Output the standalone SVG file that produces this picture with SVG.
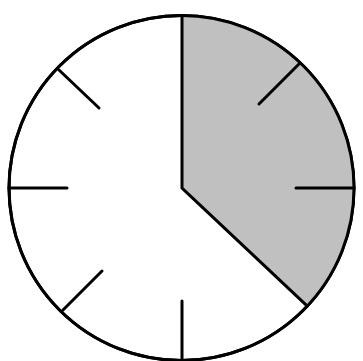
<svg xmlns="http://www.w3.org/2000/svg" width="363" height="361" viewBox="0 0 363 361">
  <style>
    .ln { stroke: #000; stroke-width: 3; fill: none; stroke-linecap: round; }
    .face { fill: #fff; stroke: #000; stroke-width: 3; }
    .sector { fill: #c0c0c0; stroke: none; }
  </style>
  <g id="dial">
    <circle class="face" cx="181.5" cy="188" r="172.5"/>
    <path class="sector" d="M182,188 L182,15.5 A172.5,172.5 0 0 1 307.3,306.2 Z"/>
    <circle cx="181.5" cy="188" r="172.5" fill="none" stroke="#000" stroke-width="3"/>
  </g>
  <g id="ticks">
    <line class="ln" x1="59" y1="70" x2="99" y2="108"/>
    <line class="ln" x1="299" y1="64" x2="259" y2="104"/>
    <line class="ln" x1="63" y1="310" x2="102" y2="271"/>
    <line class="ln" x1="296" y1="188" x2="354" y2="188"/>
    <line class="ln" x1="9" y1="188" x2="67" y2="188"/>
    <line class="ln" x1="182" y1="301" x2="182" y2="360"/>
  </g>
  <g id="hands">
    <polyline class="ln" points="182,15.5 182,188 307.3,306.2" stroke-linejoin="miter" stroke-linecap="butt"/>
  </g>
</svg>
